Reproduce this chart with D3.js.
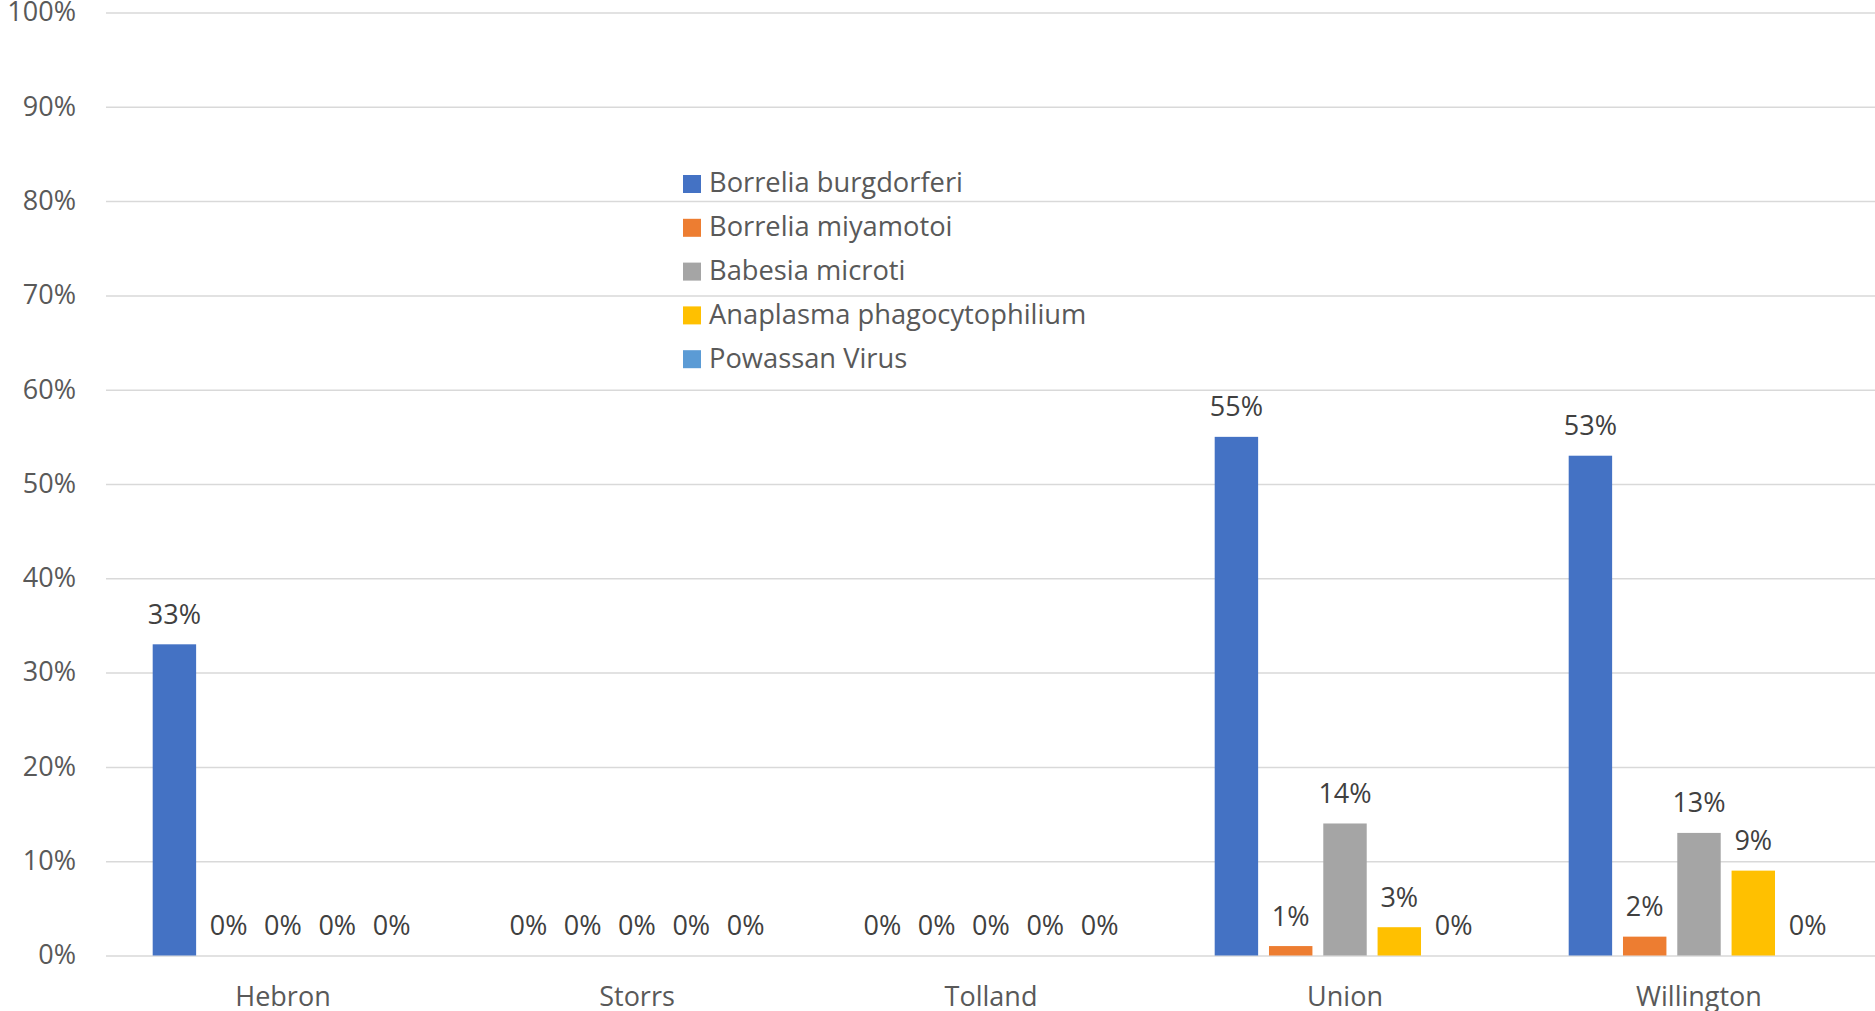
<!DOCTYPE html>
<html>
<head>
<meta charset="utf-8">
<script src="https://cdn.jsdelivr.net/npm/d3@7"></script>
<style>
  body { margin: 0; background: #fff; }
  svg { display: block; font-family: "Open Sans", sans-serif; }
</style>
</head>
<body>
<svg id="chart"></svg>
<script>
const sites = ['Hebron', 'Storrs', 'Tolland', 'Union', 'Willington'];
const pathogens = ['Borrelia burgdorferi', 'Borrelia miyamotoi', 'Babesia microti', 'Anaplasma phagocytophilium', 'Powassan Virus'];
const burgdorferi = [33, 0, 0, 55, 53];
const miyamotoi = [0, 0, 0, 1, 2];
const microti = [0, 0, 0, 14, 13];
const anaplasma = [0, 0, 0, 3, 9];
const powassan = [0, 0, 0, 0, 0];
const yTicks = [0, 10, 20, 30, 40, 50, 60, 70, 80, 90, 100];

const colors = ['#4472C4', '#ED7D31', '#A5A5A5', '#FFC000', '#5B9BD5'];
const seriesValues = [burgdorferi, miyamotoi, microti, anaplasma, powassan];

const width = 1875;
const height = 1011;
const plotLeft = 106;
const plotTop = 12.5;
const plotBottom = 955.5;
const textColor = '#595959';

const svg = d3.select('#chart')
  .attr('width', width)
  .attr('height', height);

const x0 = d3.scaleBand()
  .domain(sites)
  .range([plotLeft, width + 1]);

const x1 = d3.scaleBand()
  .domain(pathogens)
  .range([0, x0.bandwidth()])
  .paddingInner(0.2)
  .paddingOuter(0.86);

const y = d3.scaleLinear()
  .domain([0, 100])
  .range([plotBottom, plotTop]);

// gridlines + percent labels
const yAxis = svg.append('g')
  .attr('transform', `translate(${plotLeft}, 0)`)
  .call(d3.axisLeft(y)
    .tickValues(yTicks)
    .tickSize(-(width - plotLeft))
    .tickPadding(30)
    .tickFormat((d) => d + '%'));

yAxis.select('.domain').remove();
yAxis.selectAll('line')
  .attr('stroke', '#d9d9d9')
  .attr('stroke-width', 1.5);
yAxis.selectAll('text')
  .attr('fill', textColor)
  .attr('font-size', 27)
  .attr('font-family', '"Open Sans", sans-serif')
  .attr('dy', '0.31em');

// site names
const xAxis = svg.append('g')
  .attr('transform', `translate(0, ${plotBottom})`)
  .call(d3.axisBottom(x0).tickSize(0));

xAxis.select('.domain').remove();
xAxis.selectAll('text')
  .attr('fill', textColor)
  .attr('font-size', 27)
  .attr('font-family', '"Open Sans", sans-serif')
  .attr('dy', 0)
  .attr('y', 50.5);

const rows = sites.map((site, i) => ({
  site,
  values: pathogens.map((p, j) => ({ pathogen: p, value: seriesValues[j][i], color: colors[j] }))
}));

const groups = svg.append('g')
  .selectAll('g')
  .data(rows)
  .enter()
  .append('g')
  .attr('transform', (d) => `translate(${x0(d.site)}, 0)`);

groups.selectAll('rect')
  .data((d) => d.values)
  .enter()
  .append('rect')
  .attr('x', (d) => x1(d.pathogen))
  .attr('y', (d) => y(d.value))
  .attr('width', x1.bandwidth())
  .attr('height', (d) => plotBottom - y(d.value))
  .attr('fill', (d) => d.color);

groups.selectAll('text')
  .data((d) => d.values)
  .enter()
  .append('text')
  .attr('x', (d) => x1(d.pathogen) + x1.bandwidth() / 2)
  .attr('y', (d) => y(d.value) - 20.5)
  .attr('text-anchor', 'middle')
  .attr('fill', '#404040')
  .attr('font-size', 27)
  .text((d) => d.value + '%');

// legend
const legend = svg.append('g')
  .attr('transform', 'translate(683, 184)');

const items = legend.selectAll('g')
  .data(pathogens)
  .enter()
  .append('g')
  .attr('transform', (d, i) => `translate(0, ${i * 43.8})`);

items.append('rect')
  .attr('x', 0)
  .attr('y', -9)
  .attr('width', 18)
  .attr('height', 18)
  .attr('fill', (d, i) => colors[i]);

items.append('text')
  .attr('x', 26)
  .attr('dy', '0.31em')
  .attr('fill', textColor)
  .attr('font-size', 27.3)
  .text((d) => d);
</script>
</body>
</html>
